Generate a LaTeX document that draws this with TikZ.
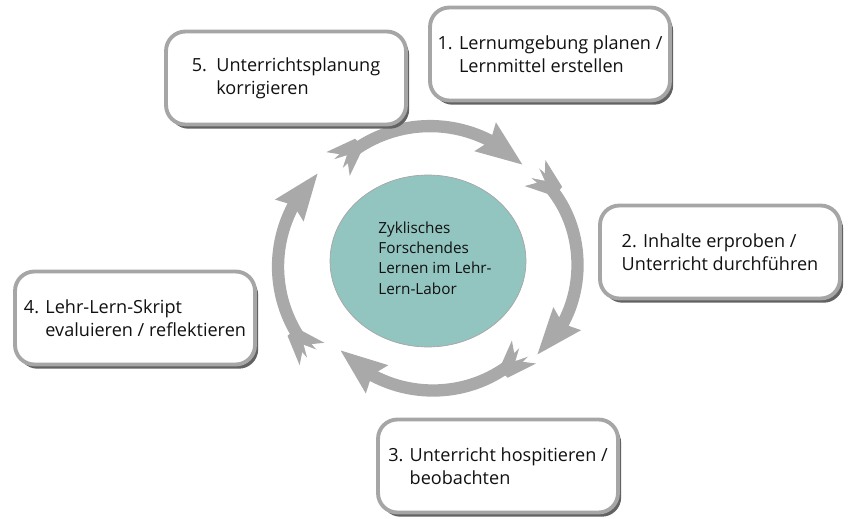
\documentclass[tikz,border=0pt]{standalone}
\usepackage{fontspec}
\setmainfont{Open Sans}
\usepackage{tikz}
\usetikzlibrary{arrows.meta,bending,shadows,shapes.geometric,decorations.markings}
\definecolor{ringgray}{HTML}{A9A9A9}
\definecolor{framegray}{HTML}{A6A6A6}
\definecolor{shadegray}{HTML}{626262}
\definecolor{hubteal}{HTML}{92C4C0}
\definecolor{inkblack}{HTML}{111111}

\begin{document}
\begin{tikzpicture}[x=0.02cm, y=0.02cm,
    stepbox/.style={rectangle, rounded corners=11pt, draw=framegray, line width=2.2pt,
                    fill=white, minimum width=4.8cm, minimum height=1.86cm, inner sep=0pt,
                    align=left, text=inkblack, font=\fontsize{10.3}{13.2}\selectfont,
                    drop shadow={shadow xshift=1.8pt, shadow yshift=-2.4pt, fill=shadegray, opacity=1}},
    hub/.style={ellipse, draw=gray!70, line width=0.4pt, fill=hubteal,
                minimum width=3.92cm, minimum height=3.44cm},
    hubtext/.style={align=left, text=inkblack, inner sep=0pt, font=\fontsize{8.7}{11.6}\selectfont},
    ringarrow/.style={draw=ringgray, line width=7pt, -{Stealth[length=26pt, width=19pt, inset=3pt]},
                      postaction={decorate, decoration={markings,
                        mark=at position 0pt with {
                          \fill[ringgray] (0pt,-9.5pt) -- (17pt,-3.4pt) -- (17pt,3.4pt) -- (0pt,9.5pt) -- (7pt,0pt) -- cycle;
                          \fill[white] (-0.6pt,-3.9pt) -- (7pt,0pt) -- (-0.6pt,3.9pt) -- cycle;}}}}
  ]
  \useasboundingbox (0,0) rectangle (849,518);

  % ring of arrows
  \coordinate (t1) at (338,354); \coordinate (h1) at (523,353);
  \coordinate (t2) at (535,345); \coordinate (h2) at (537,163);
  \coordinate (t3) at (524,166); \coordinate (h3) at (340,168);
  \coordinate (t4) at (312,164); \coordinate (h4) at (318,345);
  \draw[ringarrow] (t1) to[bend left=45] (h1);
  \draw[ringarrow] (t2) to[bend left=51] (h2);
  \draw[ringarrow] (t3) to[bend left=47] (h3);
  \draw[ringarrow] (t4) to[bend left=44] (h4);

  % centre
  \node[hub] (hub) at (428,257) {};
  \node[hubtext] (hubtext) at ([xshift=0.14cm, yshift=0.06cm]hub.center)
    {Zyklisches\\Forschendes\\Lernen im Lehr-\\Lern-Labor};

  % steps
  \node[stepbox] (plan) at (550,464)
    {1. Lernumgebung planen /\\\phantom{1. }Lernmittel erstellen};
  \node[stepbox] (test) at (720,266)
    {2. Inhalte erproben /\\Unterricht durchführen};
  \node[stepbox] (watch) at (498,52)
    {3. Unterricht hospitieren /\\\phantom{3. }beobachten};
  \node[stepbox] (eval) at (135,200)
    {4. Lehr-Lern-Skript\\\phantom{4. }evaluieren / reflektieren};
  \node[stepbox] (fix) at (286,440)
    {5.\ \ Unterrichtsplanung\\\phantom{5.\ \ }korrigieren};
\end{tikzpicture}
\end{document}
